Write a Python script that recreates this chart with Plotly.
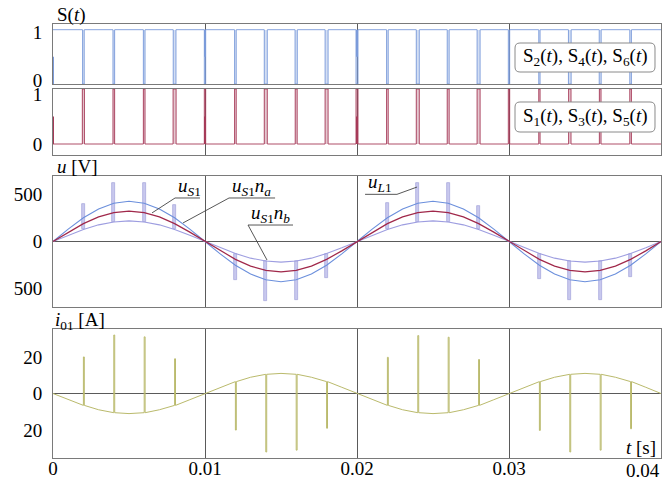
import plotly.graph_objects as go

# ---------------- data ----------------
t_ms = list(range(0, 41))  # time grid in ms

u_S1 = [0, 100, 191, 263, 309, 325, 309, 263, 191, 100, 0, -100, -191, -263, -309, -325, -309, -263, -191, -100,
        0, 100, 191, 263, 309, 325, 309, 263, 191, 100, 0, -100, -191, -263, -309, -325, -309, -263, -191, -100, 0]
u_S1na = [0, 133, 253, 348, 409, 430, 409, 348, 253, 133, 0, -133, -253, -348, -409, -430, -409, -348, -253, -133,
          0, 133, 253, 348, 409, 430, 409, 348, 253, 133, 0, -133, -253, -348, -409, -430, -409, -348, -253, -133, 0]
u_S1nb = [0, 68, 129, 178, 209, 220, 209, 178, 129, 68, 0, -68, -129, -178, -209, -220, -209, -178, -129, -68,
          0, 68, 129, 178, 209, 220, 209, 178, 129, 68, 0, -68, -129, -178, -209, -220, -209, -178, -129, -68, 0]
i01_base = [0, -3.4, -6.5, -8.9, -10.5, -11, -10.5, -8.9, -6.5, -3.4, 0, 3.4, 6.5, 8.9, 10.5, 11, 10.5, 8.9, 6.5, 3.4,
            0, -3.4, -6.5, -8.9, -10.5, -11, -10.5, -8.9, -6.5, -3.4, 0, 3.4, 6.5, 8.9, 10.5, 11, 10.5, 8.9, 6.5, 3.4, 0]

# switching pulses (ms) and their widths (ms)
pulse_ms = [2, 4, 6, 8, 10, 12, 14, 16, 18, 20, 22, 24, 26, 28, 30, 32, 34, 36, 38]
blue_w_ms = [0.11, 0.11, 0.11, 0.18, 0.09, 0.11, 0.20, 0.15, 0.20, 0.13, 0.11, 0.20, 0.13, 0.20, 0.09, 0.09, 0.18, 0.13, 0.11]
red_w_ms = [0.14, 0.11, 0.11, 0.20, 0.09, 0.11, 0.20, 0.13, 0.20, 0.13, 0.11, 0.20, 0.13, 0.20, 0.09, 0.09, 0.16, 0.11, 0.11]
# partial edges (ms, from level, to level)
blue_half = [(0, 0, 0.5), (10, 0.5, 1), (20, 0.5, 1)]
red_half = [(0, 0, 0.5), (10, 0, 0.5), (20, 0, 0.5)]

# voltage spikes (ms, peak value in V)
uspike_ms = [2, 4, 6, 8, 12, 14, 16, 18, 22, 24, 26, 28, 32, 34, 36, 38]
uspike_peak = [405, 628, 622, 385, -408, -635, -630, -390, 408, 628, 622, 383, -404, -625, -625, -383]
# current spikes (ms, peak value in A)
ispike_ms = [2, 4, 6, 8, 12, 14, 16, 18, 22, 24, 26, 28, 32, 34, 36, 38]
ispike_peak = [20, 32, 31, 19, -20, -32, -31, -19, 19.8, 31.7, 30.8, 18.6, -20.2, -32, -31, -19.3]
ispike_w_ms = 0.06

x_tick_vals = [0, 0.01, 0.02, 0.03]
x_tick_text = ["0", "0.01", "0.02", "0.03"]

# ---------------- helpers ----------------
t = [v / 1000 for v in t_ms]
FONT = "Liberation Serif"
BLUE = "#7b9bda"
RED = "#a63a58"
PURP = "#9d9de0"
OLIVE = "#baba6c"


def step(pulses, widths, high_base):
    xs, ys = [0.0], [high_base]
    other = 1 - high_base
    for p, w in zip(pulses, widths):
        a = (p - w / 2) / 1000
        b = (p + w / 2) / 1000
        xs += [a, a, b, b]
        ys += [high_base, other, other, high_base]
    xs.append(0.04)
    ys.append(high_base)
    return xs, ys


fig = go.Figure()

# --- panel 1: S2,S4,S6 (blue) ---
fig.add_trace(go.Bar(x=[p / 1000 for p in pulse_ms], y=[1] * len(pulse_ms), base=0,
                     width=[w / 1000 for w in blue_w_ms], marker=dict(color="rgba(130,160,220,0.35)", line=dict(width=0)),
                     xaxis="x", yaxis="y", showlegend=False))
bx, by = step(pulse_ms, blue_w_ms, 1)
fig.add_trace(go.Scatter(x=bx, y=by, mode="lines", line=dict(color=BLUE, width=0.9), xaxis="x", yaxis="y", showlegend=False))
hx, hy = [], []
for p, a, b in blue_half:
    hx += [p / 1000, p / 1000, None]
    hy += [a, b, None]
fig.add_trace(go.Scatter(x=hx, y=hy, mode="lines", line=dict(color=BLUE, width=2), xaxis="x", yaxis="y", showlegend=False))

# --- panel 2: S1,S3,S5 (red) ---
fig.add_trace(go.Bar(x=[p / 1000 for p in pulse_ms], y=[1] * len(pulse_ms), base=0,
                     width=[w / 1000 for w in red_w_ms], marker=dict(color="rgba(175,80,110,0.32)", line=dict(width=0)),
                     xaxis="x2", yaxis="y2", showlegend=False))
rx, ry = step(pulse_ms, red_w_ms, 0)
fig.add_trace(go.Scatter(x=rx, y=ry, mode="lines", line=dict(color=RED, width=0.9), xaxis="x2", yaxis="y2", showlegend=False))
hx, hy = [], []
for p, a, b in red_half:
    hx += [p / 1000, p / 1000, None]
    hy += [a, b, None]
fig.add_trace(go.Scatter(x=hx, y=hy, mode="lines", line=dict(color=RED, width=2), xaxis="x2", yaxis="y2", showlegend=False))

# --- panel 3: voltages ---
ub_base = [u_S1nb[t_ms.index(m)] for m in uspike_ms]
fig.add_trace(go.Bar(x=[m / 1000 for m in uspike_ms], y=[pk - b for pk, b in zip(uspike_peak, ub_base)], base=ub_base,
                     width=0.00018, marker=dict(color="#c8c8ee", line=dict(color="#a4a4da", width=0.7)),
                     xaxis="x3", yaxis="y3", showlegend=False))
fig.add_trace(go.Scatter(x=t, y=u_S1na, mode="lines", line=dict(color="#6b8fdc", width=1.1), xaxis="x3", yaxis="y3", showlegend=False))
fig.add_trace(go.Scatter(x=t, y=u_S1nb, mode="lines", line=dict(color=PURP, width=1.1), xaxis="x3", yaxis="y3", showlegend=False))
fig.add_trace(go.Scatter(x=t, y=u_S1, mode="lines", line=dict(color="#a0284a", width=1.2), xaxis="x3", yaxis="y3", showlegend=False))

# --- panel 4: current ---
cx, cy = [], []
sp = dict(zip(ispike_ms, ispike_peak))
for m, v in zip(t_ms, i01_base):
    cx.append(m / 1000)
    cy.append(v)
    if m in sp:
        a = m / 1000
        b = (m + ispike_w_ms) / 1000
        cx += [a, b, b]
        cy += [sp[m], sp[m], v]
fig.add_trace(go.Scatter(x=cx, y=cy, mode="lines", line=dict(color=OLIVE, width=1.0), xaxis="x4", yaxis="y4", showlegend=False))

# ---------------- layout ----------------
L, R, T, B = 53, 1, 24, 22
W, H = 662, 480
PW, PH = W - L - R, H - T - B


def py(ypx):
    return (H - B - ypx) / PH


def px(xpx):
    return (xpx - L) / PW


axis_common = dict(showline=True, linecolor="#7a7a7a", linewidth=1, mirror=True, automargin=False,
                   tickfont=dict(family=FONT, size=19, color="black"))
xbase = dict(range=[0, 0.04], showgrid=True, gridcolor="#5a5a5a", gridwidth=1, tickvals=x_tick_vals,
             zeroline=False, ticks="", **axis_common)
ybase = dict(ticks="outside", ticklen=6, tickcolor="rgba(0,0,0,0)", showgrid=False, **axis_common)

fig.update_layout(
    width=W, height=H, margin=dict(l=L, r=R, t=T, b=B, autoexpand=False), plot_bgcolor="white", paper_bgcolor="white",
    barmode="overlay", bargap=0, showlegend=False,
    font=dict(family=FONT, size=19, color="black"),
    xaxis=dict(anchor="y", showticklabels=False, **xbase),
    xaxis2=dict(anchor="y2", matches="x", showticklabels=False, **xbase),
    xaxis3=dict(anchor="y3", matches="x", showticklabels=False, **xbase),
    xaxis4=dict(anchor="y4", matches="x", showticklabels=True, ticktext=x_tick_text, ticklabelstandoff=-7, **xbase),
    yaxis=dict(domain=[py(84), py(24)], range=[0, 1.105], tickvals=[0.074, 0.95], ticktext=["0", "1"], zeroline=False, **ybase),
    yaxis2=dict(domain=[py(155), py(89)], range=[-0.2, 1.0], tickvals=[0, 0.905], ticktext=["0", "1"], zeroline=False, **ybase),
    yaxis3=dict(domain=[py(307), py(176)], range=[-700, 700], tickvals=[-500, 0, 500], ticktext=["500", "0", "500"],
                zeroline=True, zerolinecolor="#5a5a5a", zerolinewidth=1, **ybase),
    yaxis4=dict(domain=[py(458), py(329)], range=[-35.3, 35.3], tickvals=[-20, 0, 20], ticktext=["20", "0", "20"],
                zeroline=True, zerolinecolor="#5a5a5a", zerolinewidth=1, **ybase),
)

ann = []
# axis titles
ann.append(dict(text="S(<i>t</i>)", x=px(55), y=py(15), xref="paper", yref="paper", xanchor="left", yanchor="middle", showarrow=False))
ann.append(dict(text="<i>u</i> [V]", x=px(55), y=py(167), xref="paper", yref="paper", xanchor="left", yanchor="middle", showarrow=False))
ann.append(dict(text="<i>i</i><sub>01</sub> [A]", x=px(53), y=py(321), xref="paper", yref="paper", xanchor="left", yanchor="middle", showarrow=False))
ann.append(dict(text="<i>t</i> [s]", x=px(658), y=py(447), xref="paper", yref="paper", xanchor="right", yanchor="middle", showarrow=False))
ann.append(dict(text="0.04", x=px(662), y=py(470), xref="paper", yref="paper", xanchor="right", yanchor="middle", showarrow=False))
# legend boxes text
ann.append(dict(text="S<sub>2</sub>(<i>t</i>), S<sub>4</sub>(<i>t</i>), S<sub>6</sub>(<i>t</i>)", x=px(585), y=py(57),
                xref="paper", yref="paper", xanchor="center", yanchor="middle", showarrow=False))
ann.append(dict(text="S<sub>1</sub>(<i>t</i>), S<sub>3</sub>(<i>t</i>), S<sub>5</sub>(<i>t</i>)", x=px(585), y=py(117),
                xref="paper", yref="paper", xanchor="center", yanchor="middle", showarrow=False))

shapes = []


def rrect(x0, y0, x1, y1, r):
    def P(xp, yp):
        return f"{px(xp):.5f},{py(yp):.5f}"
    return (f"M {P(x0 + r, y0)} L {P(x1 - r, y0)} Q {P(x1, y0)} {P(x1, y0 + r)} L {P(x1, y1 - r)} "
            f"Q {P(x1, y1)} {P(x1 - r, y1)} L {P(x0 + r, y1)} Q {P(x0, y1)} {P(x0, y1 - r)} "
            f"L {P(x0, y0 + r)} Q {P(x0, y0)} {P(x0 + r, y0)} Z")


for (a, b, c, d) in [(515, 43, 655, 72), (515, 102, 655, 132)]:
    shapes.append(dict(type="path", path=rrect(a, b, c, d, 5), xref="paper", yref="paper",
                       fillcolor="white", line=dict(color="#8a8a8a", width=1), layer="above"))

# curve labels with underline + leader: text, underline x0, x1, y, leader end (x, y), leader from 'l' or 'r'
curve_labels = [
    ("<i>u</i><sub><i>S</i>1</sub>", 0.00803, 0.00967, 465, 0.00651, 305, "l"),
    ("<i>u</i><sub><i>S</i>1</sub><i>n</i><sub><i>a</i></sub>", 0.01158, 0.01461, 465, 0.00855, 198, "l"),
    ("<i>u</i><sub><i>S</i>1</sub><i>n</i><sub><i>b</i></sub>", 0.01283, 0.01579, 176, 0.01408, -198, "l"),
    ("<i>u</i><sub><i>L</i>1</sub>", 0.02053, 0.02263, 504, 0.02395, 582, "r"),
]
for txt, x0, x1, yv, ex, ey, side in curve_labels:
    sx = x0 if side == "l" else x1
    shapes.append(dict(type="path", path=f"M {x0},{yv} L {x1},{yv} M {sx},{yv} L {ex},{ey}", xref="x3", yref="y3",
                       line=dict(color="#444444", width=0.9), layer="above"))
    ann.append(dict(text=txt, x=x0, y=yv, xref="x3", yref="y3", xanchor="left", yanchor="bottom", showarrow=False,
                    xshift=1, yshift=-3))

fig.update_layout(annotations=ann, shapes=shapes)
fig.write_html("out.html", config={"displayModeBar": False},
               post_script=("document.documentElement.style.margin='0px';document.documentElement.style.overflow='hidden';"
                            "document.body.style.margin='0px';document.body.style.padding='0px';"
                            "document.body.style.overflow='hidden';"))
